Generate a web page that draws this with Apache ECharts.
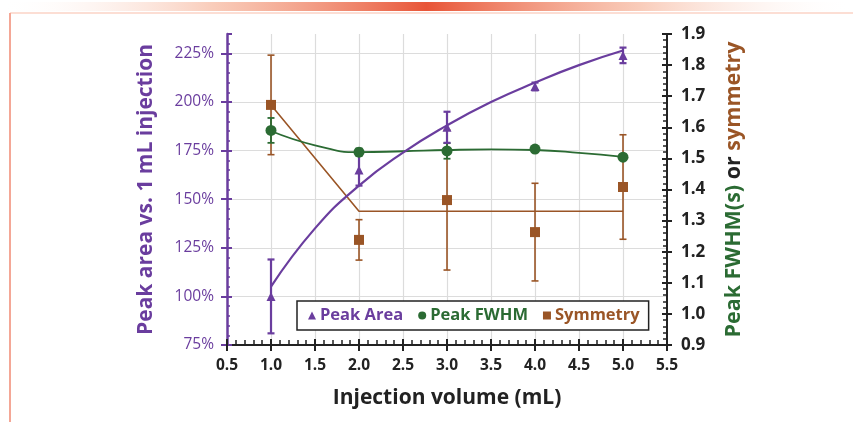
<!DOCTYPE html>
<html>
<head>
<meta charset="utf-8">
<script src="https://cdn.jsdelivr.net/npm/echarts@6/dist/echarts.min.js"></script>
<style>
  html, body { margin: 0; padding: 0; background: #fff; }
  #main { width: 853px; height: 422px; }
</style>
</head>
<body>
<div id="main"></div>
<script>
// injection volumes (mL)
var volumes = [1, 2, 3, 4, 5]

// peak area, % of 1 mL injection (left axis)
var areaVal = [100, 165, 187, 208, 224]
var areaErr = [19, 8, 8, 2, 4]
// trend line
var areaTrendX = [1, 1.5, 2, 2.5, 3, 3.5, 4, 4.5, 5]
var areaTrendY = [105, 135, 157, 174, 188, 200, 210, 219, 226.5]

// peak FWHM in s (right axis)
var fwhmVal = [1.59, 1.52, 1.524, 1.53, 1.504]
var fwhmErr = [0.04, 0.012, 0.025, 0.006, 0.006]
var fwhmTrendX = [1, 1.5, 2, 2.5, 3, 3.5, 4, 4.5, 5]
var fwhmTrendY = [1.588, 1.542, 1.52, 1.523, 1.527, 1.529, 1.527, 1.518, 1.505]

// symmetry (right axis)
var symVal = [1.672, 1.238, 1.366, 1.263, 1.408]
var symErr = [0.16, 0.065, 0.225, 0.157, 0.168]
var symTrendX = [1, 2, 5]
var symTrendY = [1.672, 1.33, 1.33]

// tick labels
var xTicks = ['0.5', '1.0', '1.5', '2.0', '2.5', '3.0', '3.5', '4.0', '4.5', '5.0', '5.5']

var PURPLE = '#6a3d9e'
var GREEN = '#2b6b33'
var BROWN = '#9a5526'
var FONT = 'Open Sans'

function pairs(xs, ys) {
  return xs.map(function (x, i) { return [x, ys[i]] })
}

function errorData(vals, errs) {
  return volumes.map(function (x, i) { return [x, vals[i] - errs[i], vals[i] + errs[i]] })
}

// vertical bar with caps, one per point
function errorBars(data, color, yIndex, lw) {
  return {
    type: 'custom',
    yAxisIndex: yIndex,
    silent: true,
    z: 2,
    data: data,
    renderItem: function (params, api) {
      var lo = api.coord([api.value(0), api.value(1)])
      var hi = api.coord([api.value(0), api.value(2)])
      var w = 3.5
      var style = { stroke: color, lineWidth: lw }
      return {
        type: 'group',
        children: [
          { type: 'line', shape: { x1: lo[0], y1: lo[1], x2: hi[0], y2: hi[1] }, style: style },
          { type: 'line', shape: { x1: lo[0] - w, y1: lo[1], x2: lo[0] + w, y2: lo[1] }, style: style },
          { type: 'line', shape: { x1: hi[0] - w, y1: hi[1], x2: hi[0] + w, y2: hi[1] }, style: style }
        ]
      }
    },
    encode: { x: 0, y: [1, 2] }
  }
}

var chart = echarts.init(document.getElementById('main'))

var option = {
  animation: false,
  backgroundColor: '#fff',
  textStyle: { fontFamily: FONT },
  graphic: [
    {
      type: 'rect', shape: { x: 0, y: 2, width: 853, height: 9 },
      style: {
        fill: new echarts.graphic.LinearGradient(0, 0, 1, 0, [
          { offset: 0, color: 'rgba(255,255,255,0)' },
          { offset: 0.25, color: 'rgba(245,170,140,0.6)' },
          { offset: 0.5, color: 'rgba(232,85,55,1)' },
          { offset: 0.75, color: 'rgba(245,170,140,0.6)' },
          { offset: 1, color: 'rgba(255,255,255,0)' }
        ])
      },
      z: -1
    },
    { type: 'line', shape: { x1: 10, y1: 13, x2: 853, y2: 13 }, style: { stroke: '#fbd3c6', lineWidth: 1.5 } },
    { type: 'line', shape: { x1: 10, y1: 13, x2: 10, y2: 422 }, style: { stroke: '#f4a796', lineWidth: 2 } }
  ],
  grid: { left: 227, right: 186, top: 34, bottom: 77 },
  legend: {
    left: 297, top: 301,
    padding: [6, 9, 6, 11],
    borderColor: '#222', borderWidth: 1.5, backgroundColor: '#fff',
    itemWidth: 8, itemHeight: 8, itemGap: 15,
    data: [
      { name: 'Peak Area', icon: 'triangle', textStyle: { color: PURPLE } },
      { name: 'Peak FWHM', icon: 'circle', textStyle: { color: GREEN } },
      { name: 'Symmetry', icon: 'rect', textStyle: { color: BROWN } }
    ],
    textStyle: { fontFamily: FONT, fontWeight: 'bold', fontSize: 16.5, padding: [0, 0, 0, -1] }
  },
  xAxis: [
    {
      type: 'value', min: 0.5, max: 5.5, interval: 0.5,
      name: 'Injection volume (mL)', nameLocation: 'middle', nameGap: 43,
      nameTextStyle: { color: '#222', fontSize: 21, fontWeight: 'bold', fontFamily: FONT },
      axisLine: { lineStyle: { color: '#222', width: 2 } },
      axisTick: { show: true, length: 6, lineStyle: { color: '#222', width: 2 } },
      axisLabel: {
        color: '#222', fontSize: 15.5, fontWeight: 'bold', margin: 13, fontFamily: FONT,
        formatter: function (v) { return xTicks[Math.round((v - 0.5) / 0.5)] }
      },
      splitLine: { show: true, showMinLine: false, showMaxLine: false, lineStyle: { color: '#dcdcdc', width: 1.2 } }
    },
    {
      type: 'value', min: 0.5, max: 5.5, interval: 0.5, position: 'bottom',
      axisLine: { show: false },
      axisTick: { show: true, inside: true, length: 6, lineStyle: { color: '#222', width: 2 } },
      minorTick: { show: true, splitNumber: 5, length: 5, lineStyle: { color: '#222', width: 1.5 } },
      axisLabel: { show: false },
      splitLine: { show: false }
    }
  ],
  yAxis: [
    {
      type: 'value', min: 75, max: 235, interval: 25, position: 'left',
      name: 'Peak area vs. 1 mL injection', nameLocation: 'middle', nameGap: 70, nameRotate: 90,
      nameTextStyle: { color: PURPLE, fontSize: 21, fontWeight: 'bold', fontFamily: FONT },
      axisLine: { show: true, lineStyle: { color: PURPLE, width: 2.5 } },
      axisTick: { show: true, length: 6, lineStyle: { color: PURPLE, width: 2 } },
      axisLabel: {
        color: PURPLE, fontSize: 15.5, margin: 13, fontFamily: FONT, showMaxLabel: false,
        formatter: function (v) { return v > 230 ? '' : v + '%' }
      },
      splitLine: { show: true, showMinLine: false, showMaxLine: false, lineStyle: { color: '#dcdcdc', width: 1.2 } }
    },
    {
      type: 'value', min: 0.9, max: 1.9, interval: 0.1, position: 'right',
      name: '{g|Peak FWHM(s)}{k| or }{b|symmetry}', nameLocation: 'middle', nameGap: 56, nameRotate: 90,
      nameTextStyle: {
        fontSize: 21.5, fontWeight: 'bold', fontFamily: FONT,
        rich: {
          g: { color: GREEN, fontSize: 21.5, fontWeight: 'bold', fontFamily: FONT },
          k: { color: '#222', fontSize: 21.5, fontWeight: 'bold', fontFamily: FONT },
          b: { color: BROWN, fontSize: 21.5, fontWeight: 'bold', fontFamily: FONT }
        }
      },
      axisLine: { show: true, lineStyle: { color: '#222', width: 2 } },
      axisTick: { show: true, length: 5, lineStyle: { color: '#222', width: 2 } },
      axisLabel: {
        color: '#222', fontSize: 17, fontWeight: 'bold', margin: 14, fontFamily: FONT,
        formatter: function (v) { return v.toFixed(1) }
      },
      splitLine: { show: false }
    },
    {
      type: 'value', min: 75, max: 235, interval: 25, position: 'left',
      axisLine: { show: false },
      axisTick: { show: true, inside: true, length: 5, lineStyle: { color: PURPLE, width: 2 } },
      minorTick: { show: true, splitNumber: 5, length: 3, lineStyle: { color: PURPLE, width: 1.5 } },
      axisLabel: { show: false },
      splitLine: { show: false }
    },
    {
      type: 'value', min: 0.9, max: 1.9, interval: 0.1, position: 'right',
      axisLine: { show: false },
      axisTick: { show: true, inside: true, length: 5, lineStyle: { color: '#222', width: 2 } },
      minorTick: { show: true, splitNumber: 5, length: 4, lineStyle: { color: '#222', width: 1.5 } },
      axisLabel: { show: false },
      splitLine: { show: false }
    }
  ],
  series: [
    errorBars(errorData(symVal, symErr), BROWN, 1, 1.6),
    errorBars(errorData(fwhmVal, fwhmErr), GREEN, 1, 1.8),
    errorBars(errorData(areaVal, areaErr), PURPLE, 0, 2.2),
    {
      type: 'line', yAxisIndex: 1, data: pairs(symTrendX, symTrendY),
      showSymbol: false, silent: true, z: 3,
      lineStyle: { color: BROWN, width: 1.6 }
    },
    {
      type: 'line', yAxisIndex: 1, data: pairs(fwhmTrendX, fwhmTrendY),
      smooth: true, showSymbol: false, silent: true, z: 3,
      lineStyle: { color: GREEN, width: 1.8 }
    },
    {
      type: 'line', yAxisIndex: 0, data: pairs(areaTrendX, areaTrendY),
      smooth: true, showSymbol: false, silent: true, z: 3,
      lineStyle: { color: PURPLE, width: 2.2 }
    },
    {
      name: 'Symmetry', type: 'scatter', yAxisIndex: 1, data: pairs(volumes, symVal),
      symbol: 'rect', symbolSize: 10, z: 4, itemStyle: { color: BROWN, opacity: 1 }
    },
    {
      name: 'Peak FWHM', type: 'scatter', yAxisIndex: 1, data: pairs(volumes, fwhmVal),
      symbol: 'circle', symbolSize: 11, z: 4, itemStyle: { color: GREEN, opacity: 1 }
    },
    {
      name: 'Peak Area', type: 'scatter', yAxisIndex: 0, data: pairs(volumes, areaVal),
      symbol: 'triangle', symbolSize: 9, z: 5, itemStyle: { color: PURPLE, opacity: 1 }
    }
  ]
}

chart.setOption(option)
</script>
</body>
</html>
